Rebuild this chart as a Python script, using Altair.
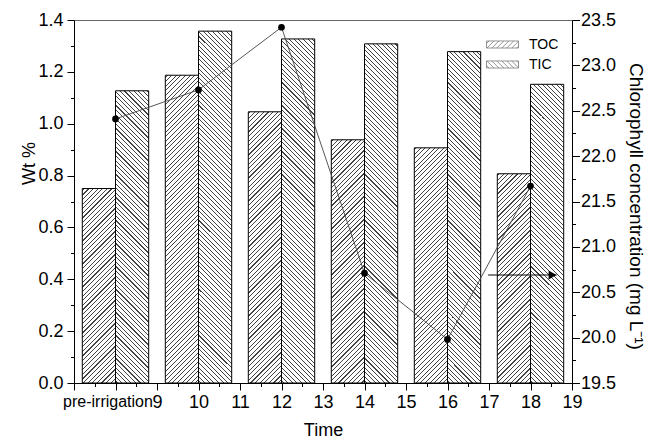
import altair as alt

# ---------------- data ----------------
times = [8, 10, 12, 14, 16, 18]
toc = [0.750, 1.187, 1.046, 0.938, 0.907, 0.807]
tic = [1.127, 1.357, 1.327, 1.308, 1.278, 1.152]
chlorophyll = [22.41, 22.73, 23.42, 20.71, 19.98, 21.67]
series_names = ["TOC", "TIC"]
x_tick_values = [7 + 0.5 * i for i in range(25)]
wt_tick_values = [round(0.1 * i, 1) for i in range(15)]
chl_tick_values = [19.5 + 0.25 * i for i in range(17)]
first_label = "pre-irrigation"
arrow_x = [16.98, 18.63]
arrow_y = [20.69]

# ---------------- layout / style ----------------
PLOT_W, PLOT_H = 498, 363
X_DOMAIN = [7, 19]
WT_DOMAIN = [0, 1.4]
CHL_DOMAIN = [19.5, 23.5]
BAR_W = 0.8
FONT = "Liberation Sans"
HATCH_COLOR = "#444444"

px_per_x = PLOT_W / (X_DOMAIN[1] - X_DOMAIN[0])
px_per_wt = PLOT_H / (WT_DOMAIN[1] - WT_DOMAIN[0])


def hatch_gradient(w, h, forward, period=4.6, thick=1.1, color=HATCH_COLOR):
    """Striped linear gradient giving 45 degree hatching for a w x h px box."""
    s = w + h
    d = w * w + h * h
    if forward:
        x1, y1, x2, y2 = 0.0, 0.0, w * s / d, h * s / d
    else:
        x1, y1, x2, y2 = 0.0, 1.0, w * s / d, 1.0 - h * s / d
    stops = [{"offset": 0, "color": "white"}]
    t = 1.5 / s
    dt = period / s
    lt = thick / s
    while t < 1:
        a = round(t, 6)
        b = round(min(t + lt, 1), 6)
        stops += [
            {"offset": a, "color": "white"},
            {"offset": a, "color": color},
            {"offset": b, "color": color},
            {"offset": b, "color": "white"},
        ]
        t += dt
    stops.append({"offset": 1, "color": "white"})
    return {"gradient": "linear", "x1": x1, "y1": y1,
            "x2": round(x2, 6), "y2": round(y2, 6), "stops": stops}


def swatch_path(forward, hw=2.0, hh=0.44, period=0.62):
    parts = [f"M{-hw},{-hh}H{hw}V{hh}H{-hw}Z"]
    c = -hw - hh + period / 2
    while c < hw + hh:
        if forward:  # x + y = c
            ylo, yhi = max(-hh, c - hw), min(hh, c + hw)
            if ylo < yhi:
                parts.append(f"M{c - ylo:.3f},{ylo:.3f}L{c - yhi:.3f},{yhi:.3f}")
        else:  # x - y = c
            ylo, yhi = max(-hh, -hw - c), min(hh, hw - c)
            if ylo < yhi:
                parts.append(f"M{c + ylo:.3f},{ylo:.3f}L{c + yhi:.3f},{yhi:.3f}")
        c += period
    return "".join(parts)


bar_records = []
for t, a, b in zip(times, toc, tic):
    bar_records.append({"series": "TOC", "left": t - BAR_W, "right": t, "value": a,
                        "grad": hatch_gradient(BAR_W * px_per_x, a * px_per_wt, True)})
    bar_records.append({"series": "TIC", "left": t, "right": t + BAR_W, "value": b,
                        "grad": hatch_gradient(BAR_W * px_per_x, b * px_per_wt, False)})

chl_records = [{"t": t, "c": c} for t, c in zip(times, chlorophyll)]
arrow_records = [{"x0": arrow_x[0], "x1": arrow_x[1], "xh": arrow_x[1] - 0.1, "y": arrow_y[0]}]

x_scale = alt.Scale(domain=X_DOMAIN, nice=False, zero=False)
wt_scale = alt.Scale(domain=WT_DOMAIN, nice=False, zero=False)
chl_scale = alt.Scale(domain=CHL_DOMAIN, nice=False, zero=False)

x_axis = alt.Axis(
    values=x_tick_values,
    labelExpr=f"datum.value == 8 ? '{first_label}' : ((datum.value == 7 || datum.value % 1 != 0) ? '' : format(datum.value, 'd'))",
    tickSize={"condition": {"test": "datum.value % 1 == 0", "value": 7}, "value": 3.5},
    labelOffset={"condition": {"test": "datum.value == 8", "value": -8}, "value": 0},
    labelFontSize={"condition": {"test": "datum.value == 8", "value": 16}, "value": 18},
    labelFlush=False, labelOverlap=False, labelPadding=3,
    title="Time", titleY=47, titleBaseline="middle",
)
wt_axis = alt.Axis(
    values=wt_tick_values,
    labelExpr="round(datum.value * 10) % 2 == 0 ? format(datum.value, '.1f') : ''",
    tickSize={"condition": {"test": "round(datum.value * 10) % 2 == 0", "value": 7}, "value": 3.5},
    labelFlush=False, labelOverlap=False, labelPadding=4,
    title="Wt %", titleX=-45, titleY=143, titleAngle=270, titleBaseline="middle",
)
chl_axis = alt.Axis(
    orient="right",
    values=chl_tick_values,
    labelExpr="round(datum.value * 4) % 2 == 0 ? format(datum.value, '.1f') : ''",
    tickSize={"condition": {"test": "round(datum.value * 4) % 2 == 0", "value": 7.5}, "value": 3.5},
    labelFlush=False, labelOverlap=False, labelPadding=1,
    title="Chlorophyll concentration (mg L\u207b\u00b9)", titleFontSize=19,
    titleX=63, titleY=186, titleAngle=90, titleBaseline="middle",
)

bars = alt.Chart(alt.Data(values=bar_records)).mark_rect(stroke="black", strokeWidth=1).encode(
    x=alt.X("left:Q", scale=x_scale, axis=x_axis),
    x2="right:Q",
    y=alt.Y("value:Q", scale=wt_scale, axis=wt_axis),
    y2=alt.datum(0),
    fill=alt.Fill("grad:N", scale=None),
)

legend_layer = alt.Chart(alt.Data(values=bar_records)).mark_point(
    size=0, filled=False, color="#444", strokeWidth=0.8
).encode(
    x=alt.X("right:Q", scale=x_scale, axis=x_axis),
    y=alt.Y("value:Q", scale=wt_scale, axis=wt_axis),
    shape=alt.Shape(
        "series:N",
        scale=alt.Scale(domain=series_names, range=[swatch_path(True), swatch_path(False)]),
        legend=alt.Legend(
            title=None, orient="none", legendX=420, legendY=16,
            symbolSize=256, symbolStrokeColor="#444", symbolStrokeWidth=0.8,
            symbolFillColor="transparent", labelFontSize=14, labelFont=FONT,
            labelOffset=18, rowPadding=4, padding=0, labelColor="black",
        ),
    ),
)

line = alt.Chart(alt.Data(values=chl_records)).mark_line(color="#444", strokeWidth=0.9).encode(
    x=alt.X("t:Q", scale=x_scale, axis=x_axis),
    y=alt.Y("c:Q", scale=chl_scale, axis=chl_axis),
)
dots = alt.Chart(alt.Data(values=chl_records)).mark_point(
    filled=True, color="black", size=45, opacity=1
).encode(
    x=alt.X("t:Q", scale=x_scale, axis=x_axis),
    y=alt.Y("c:Q", scale=chl_scale, axis=chl_axis),
)
arrow_rule = alt.Chart(alt.Data(values=arrow_records)).mark_rule(color="black", strokeWidth=1).encode(
    x=alt.X("x0:Q", scale=x_scale, axis=x_axis),
    x2="x1:Q",
    y=alt.Y("y:Q", scale=chl_scale, axis=chl_axis),
)
arrow_head = alt.Chart(alt.Data(values=arrow_records)).mark_point(
    shape="triangle-right", filled=True, color="black", size=80, opacity=1
).encode(
    x=alt.X("xh:Q", scale=x_scale, axis=x_axis),
    y=alt.Y("y:Q", scale=chl_scale, axis=chl_axis),
)

wt_group = alt.layer(bars, legend_layer)
chl_group = alt.layer(line, dots, arrow_rule, arrow_head)

chart = (
    alt.layer(wt_group, chl_group)
    .resolve_scale(y="independent")
    .properties(
        width=PLOT_W, height=PLOT_H,
        padding={"left": 74, "top": 20, "right": 78, "bottom": 56},
        autosize=alt.AutoSizeParams(type="none"),
        background="white",
    )
    .configure_view(stroke="#666", strokeWidth=1)
    .configure_axis(
        domainColor="black", tickColor="black", labelColor="black", titleColor="black",
        labelFont=FONT, titleFont=FONT, labelFontSize=18, titleFontSize=18,
        titleFontWeight="normal", grid=False, domainWidth=1, tickWidth=1,
    )
)

chart.save("out.html", embed_options={"renderer": "svg", "actions": False})
